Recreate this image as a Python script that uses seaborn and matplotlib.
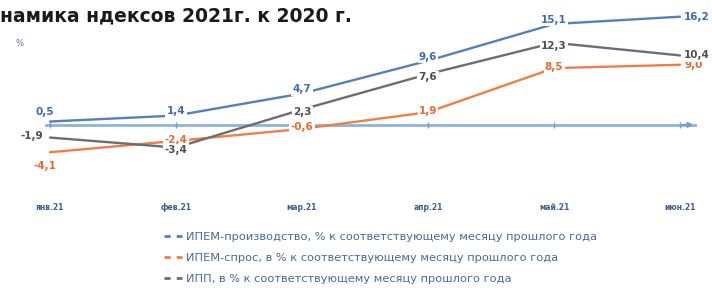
import matplotlib
matplotlib.use("Agg")
import matplotlib.pyplot as plt
from matplotlib.lines import Line2D
import numpy as np
import pandas as pd
import seaborn as sns

months = ["янв.21", "фев.21", "мар.21", "апр.21", "май.21", "июн.21"]
ipem_prod = [0.5, 1.4, 4.7, 9.6, 15.1, 16.2]
ipem_demand = [-4.1, -2.4, -0.6, 1.9, 8.5, 9.0]
ipp = [-1.9, -3.4, 2.3, 7.6, 12.3, 10.4]
series_names = [
    "ИПЕМ-производство, % к соответствующему месяцу прошлого года",
    "ИПЕМ-спрос, в % к соответствующему месяцу прошлого года",
    "ИПП, в % к соответствующему месяцу прошлого года",
]
title = "намика ндексов 2021г. к 2020 г."

colors = ["#5680bd", "#f07e45", "#6e6e6e"]
text_colors = ["#3f6cae", "#ea6a2c", "#4f4f4f"]

# label offsets in points: first point, interior points, last point
first_offsets = [(-4, 7, "center"), (-4, -10, "center"), (-5, 1, "right")]
interior_dy = [3, 1, -2]


def fmt(v):
    return f"{v:.1f}".replace(".", ",")


def main():
    sns.set_style("white")
    plt.rcParams["font.family"] = ["DejaVu Sans"]

    df = pd.DataFrame({
        "month": np.tile(np.arange(len(months)), 3),
        "value": ipem_prod + ipem_demand + ipp,
        "series": np.repeat(series_names, len(months)),
    })

    fig = plt.figure(figsize=(7.12, 2.88), dpi=100)
    ax = fig.add_axes([45 / 712, 1 - 200 / 288, 652 / 712, 192 / 288])

    sns.lineplot(data=df, x="month", y="value", hue="series", palette=colors,
                 linewidth=1.7, legend=False, ax=ax, zorder=3)

    # zero axis with arrow
    ax.axhline(0, color="#8db3df", lw=2.0, zorder=1)
    ax.annotate("", xy=(5.13, 0), xytext=(5.0, 0),
                arrowprops=dict(arrowstyle="-|>", color="#6f9fd6", lw=1.5,
                                mutation_scale=7), zorder=1)
    ax.plot(np.arange(len(months)), np.zeros(len(months)), ls="none",
            marker="|", ms=4, color="#6f9fd6", zorder=1)

    for k, vals in enumerate([ipem_prod, ipem_demand, ipp]):
        for i, v in enumerate(vals):
            if i == 0:
                dx, dy, ha = first_offsets[k]
            elif i == len(vals) - 1:
                dx, dy, ha = 3, 0, "left"
            else:
                dx, dy, ha = 0, interior_dy[k], "center"
            ax.annotate(fmt(v), (i, v), xytext=(dx, dy), textcoords="offset points",
                        ha=ha, va="center", fontsize=7.5, fontweight="bold",
                        color=text_colors[k], zorder=5,
                        bbox=dict(boxstyle="square,pad=0.12", fc="white", ec="none"))

    ax.set_xlim(-0.04, 5.135)
    ax.set_ylim(-11.25, 17.5)
    ax.set_xticks(np.arange(len(months)))
    ax.set_xticklabels(months, fontsize=5.5, color="#3f5f8f", fontweight="bold")
    ax.tick_params(axis="x", length=0, pad=2)
    ax.set_yticks([])
    ax.set_xlabel("")
    ax.set_ylabel("")
    sns.despine(ax=ax, left=True, bottom=True)

    fig.text(20 / 712, 1 - 43 / 288, "%", fontsize=6, color="#4f6f9f",
             ha="center", va="center")
    fig.text(0, 1 - 16 / 288, title, fontsize=13.5, fontweight="heavy",
             color="#1a1a1a", ha="left", va="center")

    handles = [Line2D([], [], color=c, lw=2, dashes=(2.2, 2.2)) for c in colors]
    fig.legend(handles, series_names, loc="upper left",
               bbox_to_anchor=(158 / 712, 1 - 226 / 288), frameon=False,
               fontsize=8.2, handlelength=1.65, handletextpad=0.3,
               labelspacing=1.0, labelcolor="#4a6a9a", borderpad=0)

    fig.savefig("out.png", dpi=100)


if __name__ == "__main__":
    main()
